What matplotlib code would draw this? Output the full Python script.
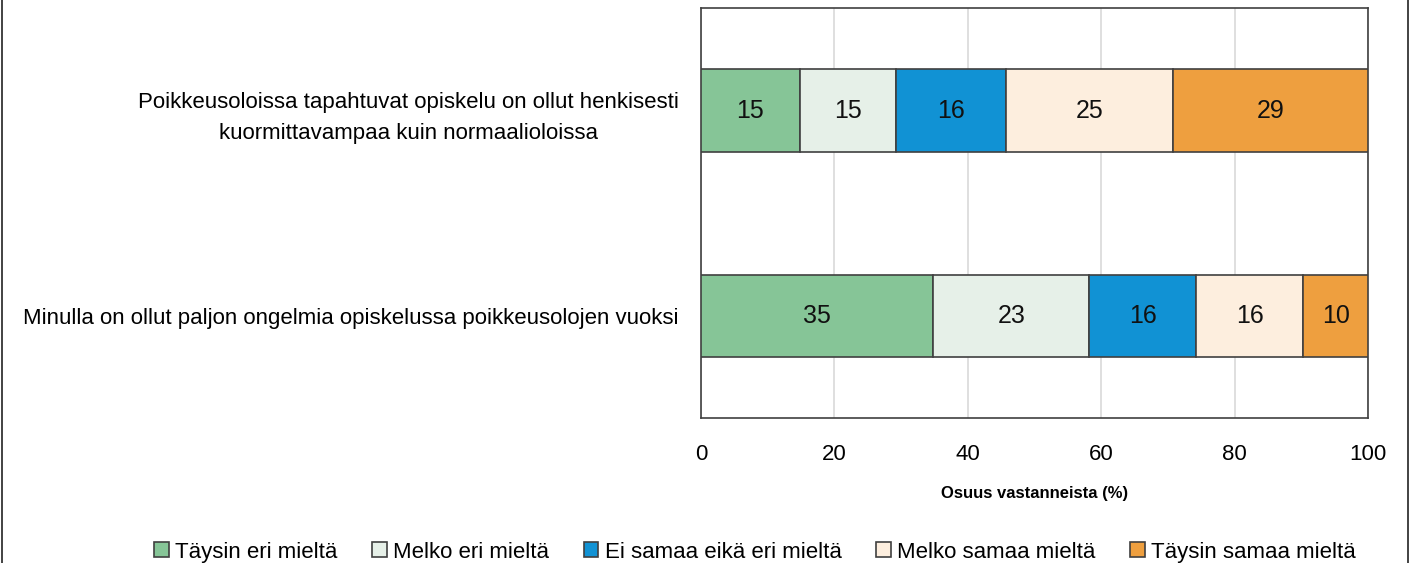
import matplotlib
matplotlib.use("Agg")
import matplotlib.pyplot as plt
from matplotlib.lines import Line2D
from matplotlib import font_manager

names = {f.name for f in font_manager.fontManager.ttflist}
fam = ['Liberation Sans Narrow'] if 'Liberation Sans Narrow' in names else ['Liberation Sans']
plt.rcParams['font.family'] = fam + ['DejaVu Sans']

categories = [
    "Poikkeusoloissa tapahtuvat opiskelu on ollut henkisesti\nkuormittavampaa kuin normaalioloissa",
    "Minulla on ollut paljon ongelmia opiskelussa poikkeusolojen vuoksi",
]
series = ["Täysin eri mieltä", "Melko eri mieltä", "Ei samaa eikä eri mieltä",
          "Melko samaa mieltä", "Täysin samaa mieltä"]
values = [
    [14.8, 14.4, 16.5, 25.1, 29.2],
    [34.8, 23.4, 16.0, 16.1, 9.7],
]
labels = [
    [15, 15, 16, 25, 29],
    [35, 23, 16, 16, 10],
]
colors = ["#86C597", "#E6F0E8", "#1192D4", "#FDEEDE", "#EE9F3F"]
xticks = [0, 20, 40, 60, 80, 100]

fig = plt.figure(figsize=(14.14, 5.63), dpi=100)
ax = fig.add_axes([0.4958, 0.2575, 0.4717, 0.7283])

for i, cat in enumerate(categories):
    left = 0
    for j, v in enumerate(values[i]):
        ax.barh(i, v, left=left, height=0.4, color=colors[j], edgecolor="#404040",
                linewidth=1.2, label=series[j] if i == 0 else None, zorder=3)
        ax.text(left + v / 2, i, str(labels[i][j]), ha="center", va="center",
                fontsize=18, color="#111111", zorder=4)
        left += v

ax.set_xlim(0, 100)
ax.set_ylim(1.5, -0.5)
ax.set_xticks(xticks)
ax.set_xticklabels([str(t) for t in xticks], fontsize=16)
ax.set_yticks(range(len(categories)))
ax.set_yticklabels(categories, fontsize=16, linespacing=1.6, multialignment="center")
ax.tick_params(axis="x", length=0, pad=19)
ax.tick_params(axis="y", length=0, pad=16)
ax.xaxis.grid(True, color="#D9D9D9", linewidth=1.2, zorder=0)
ax.set_axisbelow(True)
for s in ax.spines.values():
    s.set_color("#404040")
    s.set_linewidth(1.2)
ax.set_xlabel("Osuus vastanneista (%)", fontsize=12, fontweight="bold", labelpad=15)

handles, lbls = ax.get_legend_handles_labels()
fig.legend(handles, lbls, loc="lower center", bbox_to_anchor=(0.534, -0.035), ncol=5,
           frameon=False, fontsize=16, handlelength=0.65, handleheight=0.65,
           handletextpad=0.3, columnspacing=1.55)

fig.add_artist(Line2D([0.0015, 0.0015], [0, 1], transform=fig.transFigure, color="#222222", linewidth=1.2))
fig.add_artist(Line2D([0.9955, 0.9955], [0, 1], transform=fig.transFigure, color="#222222", linewidth=1.2))

fig.savefig("out.png", dpi=100)
